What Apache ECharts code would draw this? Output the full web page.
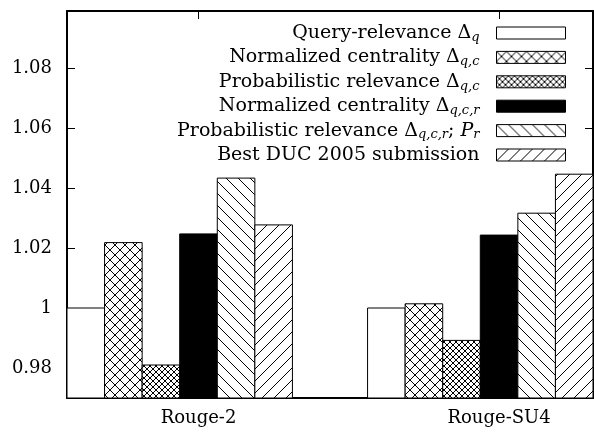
<!DOCTYPE html>
<html><head><meta charset="utf-8">
<script src="https://cdn.jsdelivr.net/npm/echarts@6/dist/echarts.min.js"></script>
<style>html,body{margin:0;padding:0;background:#fff}#c{width:594px;height:432px}</style>
</head><body><div id="c"></div>
<script>
// ---- data ----
const categories = ['Rouge-2', 'Rouge-SU4'];
const yTicks = [0.98, 1, 1.02, 1.04, 1.06, 1.08];
const seriesNames = ['qr', 'nc_qc', 'pr_qc', 'nc_qcr', 'pr_qcr', 'best'];
const legendLabels = [
  'Query-relevance Δ{s|q}',
  'Normalized centrality Δ{s|q,c}',
  'Probabilistic relevance Δ{s|q,c}',
  'Normalized centrality Δ{s|q,c,r}',
  'Probabilistic relevance Δ{s|q,c,r}; {i|P}{s|r}',
  'Best DUC 2005 submission'
];
const queryRelevance    = [1.000, 1.000];
const normCentralityQC  = [1.0218, 1.0014];
const probRelevanceQC   = [0.981, 0.9892];
const normCentralityQCR = [1.0247, 1.0243];
const probRelevanceQCR  = [1.0433, 1.0316];
const bestDUC           = [1.0277, 1.0446];
const seriesValues = [queryRelevance, normCentralityQC, probRelevanceQC, normCentralityQCR, probRelevanceQCR, bestDUC];

// ---- styles ----
const FONT = 'DejaVu Serif';
const Y_MIN = 0.97, Y_MAX = 1.099;
const X_MIN = -0.4375, X_MAX = 1.3125;
const BAR_W = 0.125;
const FIRST_OFFSET = -0.375;

function makePattern(kind) {
  const sizes = {cross: 10, dense: 6, back: 12, slash: 12};
  const P = sizes[kind];
  const c = document.createElement('canvas');
  c.width = P; c.height = P;
  const g = c.getContext('2d');
  g.fillStyle = '#fff'; g.fillRect(0, 0, P, P);
  g.strokeStyle = '#000'; g.lineWidth = 1;
  const slash = () => {
    g.beginPath();
    g.moveTo(-1, P + 1); g.lineTo(P + 1, -1);
    g.moveTo(-1, 1); g.lineTo(1, -1);
    g.moveTo(P - 1, P + 1); g.lineTo(P + 1, P - 1);
    g.stroke();
  };
  const back = () => {
    g.beginPath();
    g.moveTo(-1, -1); g.lineTo(P + 1, P + 1);
    g.moveTo(P - 1, -1); g.lineTo(P + 1, 1);
    g.moveTo(-1, P - 1); g.lineTo(1, P + 1);
    g.stroke();
  };
  if (kind === 'cross' || kind === 'dense') { slash(); back(); }
  else if (kind === 'back') back();
  else slash();
  return {image: c, repeat: 'repeat'};
}
const fills = ['#fff', makePattern('cross'), makePattern('dense'), '#000', makePattern('back'), makePattern('slash')];

const series = seriesValues.map((vals, i) => ({
  type: 'custom',
  name: seriesNames[i],
  xAxisIndex: 0, yAxisIndex: 0,
  clip: true,
  itemStyle: {color: fills[i], borderColor: '#000', borderWidth: 1},
  data: vals.map((v, j) => [j + FIRST_OFFSET + i * BAR_W, v]),
  renderItem: function (params, api) {
    const x = api.value(0), y = api.value(1);
    const p0 = api.coord([x - BAR_W / 2, Y_MIN]);
    const p1 = api.coord([x + BAR_W / 2, y]);
    return {
      type: 'rect',
      shape: {x: p0[0], y: p1[1], width: p1[0] - p0[0], height: p0[1] - p1[1]},
      style: {fill: fills[i], stroke: '#000', lineWidth: 1}
    };
  }
}));

const lineStyle = {color: '#000', width: 2};
const tickStyle = {color: '#000', width: 1};
const labelStyle = {fontFamily: FONT, fontSize: 18, color: '#000'};

const option = {
  animation: false,
  backgroundColor: '#fff',
  grid: {left: 67, right: 1, top: 11, bottom: 34},
  xAxis: [
    {type: 'value', min: X_MIN, max: X_MAX, position: 'bottom',
     axisLine: {show: true, onZero: false, lineStyle: lineStyle},
     axisTick: {show: true, inside: true, length: 8, customValues: [0, 1], lineStyle: tickStyle},
     axisLabel: Object.assign({customValues: [0, 1], margin: 11, formatter: v => categories[Math.round(v)]}, labelStyle),
     splitLine: {show: false}},
    {type: 'value', min: X_MIN, max: X_MAX, position: 'top',
     axisLine: {show: true, onZero: false, lineStyle: lineStyle},
     axisTick: {show: true, inside: true, length: 8, customValues: [0, 1], lineStyle: tickStyle},
     axisLabel: {show: false},
     splitLine: {show: false}}
  ],
  yAxis: [
    {type: 'value', min: Y_MIN, max: Y_MAX, position: 'left',
     axisLine: {show: true, onZero: false, lineStyle: lineStyle},
     axisTick: {show: true, inside: true, length: 8, customValues: yTicks, lineStyle: tickStyle},
     axisLabel: Object.assign({customValues: yTicks, margin: 15, formatter: v => String(+(+v).toFixed(2))}, labelStyle),
     splitLine: {show: false}},
    {type: 'value', min: Y_MIN, max: Y_MAX, position: 'right',
     axisLine: {show: true, onZero: false, lineStyle: lineStyle},
     axisTick: {show: true, inside: true, length: 8, customValues: yTicks, lineStyle: tickStyle},
     axisLabel: {show: false},
     splitLine: {show: false}}
  ],
  legend: {
    orient: 'vertical', right: 28, top: 22, align: 'right',
    itemWidth: 69, itemHeight: 12, itemGap: 2.4, padding: 0,
    selectedMode: false, icon: 'rect',
    data: seriesNames.map((n, i) => ({name: n, icon: 'rect', itemStyle: {color: fills[i], borderColor: '#000', borderWidth: 1}})),
    formatter: name => legendLabels[seriesNames.indexOf(name)] + '{g|}',
    textStyle: {
      fontFamily: FONT, fontSize: 19, color: '#000', lineHeight: 22,
      rich: {
        s: {fontFamily: FONT, fontSize: 13, fontStyle: 'italic', lineHeight: 14, verticalAlign: 'bottom', color: '#000'},
        i: {fontFamily: FONT, fontSize: 19, fontStyle: 'italic', lineHeight: 22, color: '#000'},
        g: {width: 12}
      }
    }
  },
  series: series
};
echarts.init(document.getElementById('c'), null, {renderer: 'canvas'}).setOption(option);
</script>
</body></html>
